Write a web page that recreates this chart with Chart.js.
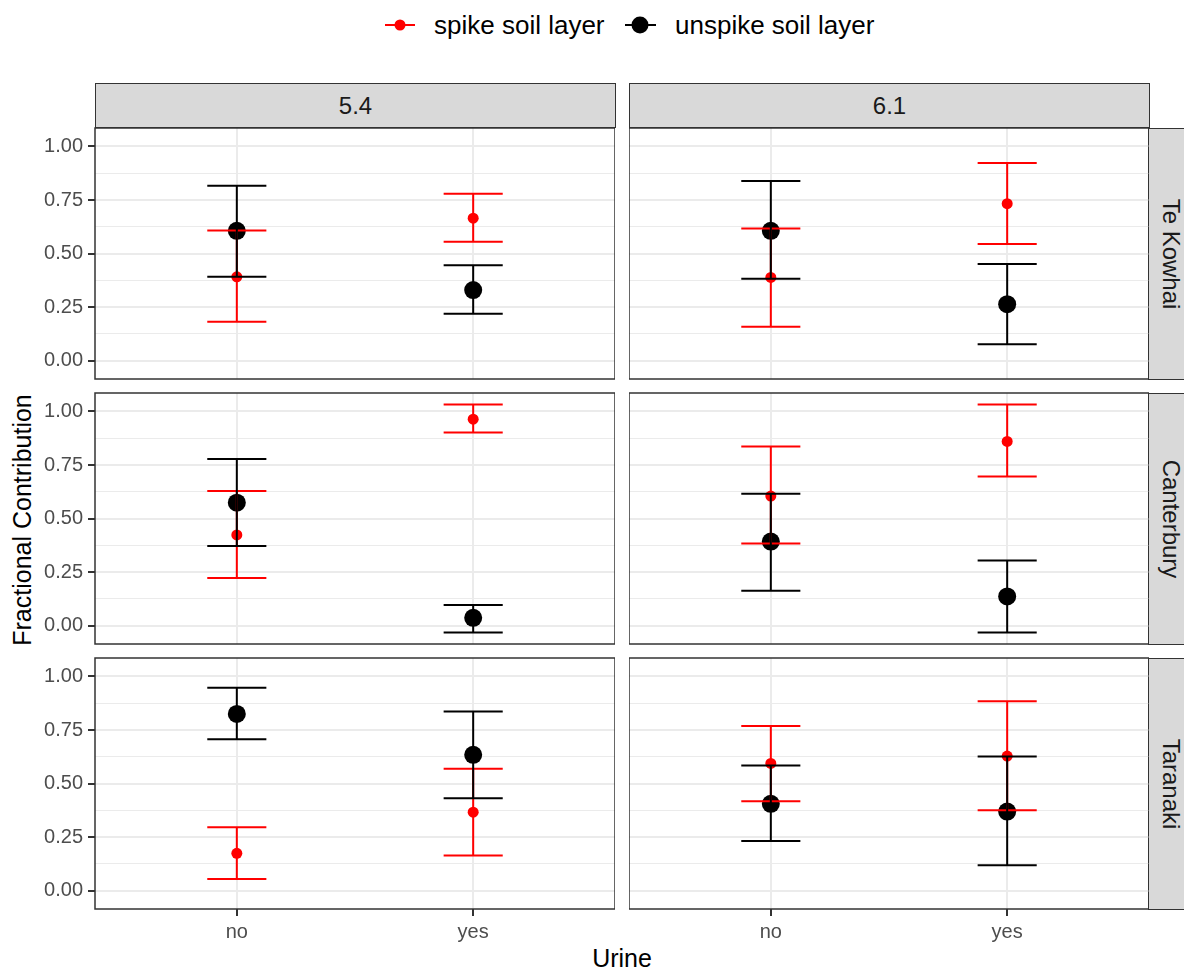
<!DOCTYPE html>
<html>
<head>
<meta charset="utf-8">
<title>Fractional Contribution by Urine</title>
<script src="https://cdn.jsdelivr.net/npm/chart.js@4.4.1/dist/chart.umd.min.js"></script>
<style>
  html, body { margin: 0; padding: 0; background: #fff; }
  #page {
    position: relative; width: 1184px; height: 970px; overflow: hidden;
    font-family: "Liberation Sans", Arial, sans-serif;
  }
  canvas { position: absolute; }
  .strip {
    position: absolute; box-sizing: border-box;
    background: #D9D9D9; border: 1.5px solid #333333;
    color: #1A1A1A; font-size: 24px;
    display: flex; align-items: center; justify-content: center;
  }
  .strip.side span { transform: rotate(90deg); white-space: nowrap; }
  .title { position: absolute; color: #000; font-size: 25px; white-space: nowrap; transform: translate(-50%, -50%); }
  .title.y { transform: translate(-50%, -50%) rotate(-90deg); }
  .lg-text { position: absolute; top: 25px; transform: translateY(-50%); font-size: 26px; color: #000; white-space: nowrap; }
  .lg-line { position: absolute; height: 2px; top: 24px; }
  .lg-dot { position: absolute; border-radius: 50%; transform: translate(-50%, -50%); top: 25px; }
</style>
</head>
<body>
<div id="page">
  <div class="lg-line" style="left:385px;width:30px;background:#FF0000"></div>
  <div class="lg-dot" style="left:400px;width:11px;height:11px;background:#FF0000"></div>
  <div class="lg-text" style="left:434px">spike soil layer</div>
  <div class="lg-line" style="left:625px;width:31px;background:#000"></div>
  <div class="lg-dot" style="left:640px;width:17px;height:17px;background:#000"></div>
  <div class="lg-text" style="left:675px">unspike soil layer</div>

  <div class="title y" style="left:22px;top:520px">Fractional Contribution</div>
  <div class="title" style="left:622px;top:958px">Urine</div>
</div>

<script>
'use strict';

// ─── Data ─────────────────────────────────────────────────────────────────────
const phLevels = ['5.4', '6.1'];
const sites = ['Te Kowhai', 'Canterbury', 'Taranaki'];
const urine = ['no', 'yes'];

// [site][pH] -> [no, yes]
const spikeMean = [
  [[0.391, 0.665], [0.388, 0.733]],
  [[0.423, 0.964], [0.605, 0.860]],
  [[0.174, 0.366], [0.594, 0.628]],
];
const spikeLow = [
  [[0.181, 0.555], [0.158, 0.544]],
  [[0.222, 0.902], [0.383, 0.696]],
  [[0.054, 0.164], [0.417, 0.375]],
];
const spikeHigh = [
  [[0.607, 0.779], [0.617, 0.923]],
  [[0.628, 1.033], [0.836, 1.033]],
  [[0.296, 0.569], [0.769, 0.884]],
];

const unspikeMean = [
  [[0.606, 0.329], [0.606, 0.263]],
  [[0.574, 0.036], [0.392, 0.136]],
  [[0.825, 0.634], [0.405, 0.369]],
];
const unspikeLow = [
  [[0.391, 0.219], [0.382, 0.076]],
  [[0.372, -0.033], [0.163, -0.033]],
  [[0.707, 0.431], [0.231, 0.118]],
];
const unspikeHigh = [
  [[0.816, 0.445], [0.839, 0.451]],
  [[0.778, 0.096], [0.616, 0.304]],
  [[0.947, 0.836], [0.584, 0.626]],
];

const yTicks = [0, 0.125, 0.25, 0.375, 0.5, 0.625, 0.75, 0.875, 1];

// ─── Layout ───────────────────────────────────────────────────────────────────
const PANEL_W = 520;
const PANEL_H = 251;
const COL_LEFT = [95, 629];
const ROW_TOP = [128, 393, 658];
const MARGIN = 20;
const X_AXIS_H = 45;
const Y_MIN = -0.0863;
const Y_MAX = 1.0863;
const CAP_WIDTH = 0.25;

const series = [
  { label: 'spike soil layer', color: '#FF0000', radius: 5.5, mean: spikeMean, low: spikeLow, high: spikeHigh },
  { label: 'unspike soil layer', color: '#000000', radius: 9, mean: unspikeMean, low: unspikeLow, high: unspikeHigh },
];

const tickFont = { family: '"Liberation Sans", Arial, sans-serif', size: 20 };
const isMajor = v => Math.abs(v * 4 - Math.round(v * 4)) < 1e-6;

const page = document.getElementById('page');

// strips
phLevels.forEach((ph, c) => {
  const s = document.createElement('div');
  s.className = 'strip';
  s.style.cssText = `left:${COL_LEFT[c]}px;top:83px;width:${PANEL_W + 1}px;height:45px;`;
  s.textContent = ph;
  page.appendChild(s);
});
sites.forEach((site, r) => {
  const s = document.createElement('div');
  s.className = 'strip side';
  s.style.cssText = `left:1148px;top:${ROW_TOP[r]}px;width:46px;height:${PANEL_H + 1}px;`;
  s.innerHTML = `<span>${site}</span>`;
  page.appendChild(s);
});

// error bars + panel frame
const errorBars = {
  id: 'errorBars',
  afterDatasetsDraw(chart) {
    const { ctx, scales: { x, y } } = chart;
    const { r, c } = chart.options.plugins.errorBars;
    ctx.save();
    ctx.lineWidth = 2;
    ctx.lineCap = 'butt';
    series.forEach(s => {
      ctx.strokeStyle = s.color;
      urine.forEach((_, i) => {
        const px = x.getPixelForValue(i + 1);
        const hw = x.getPixelForValue(i + 1 + CAP_WIDTH / 2) - px;
        const yl = y.getPixelForValue(s.low[r][c][i]);
        const yh = y.getPixelForValue(s.high[r][c][i]);
        ctx.beginPath();
        ctx.moveTo(px, yl); ctx.lineTo(px, yh);
        ctx.moveTo(px - hw, yl); ctx.lineTo(px + hw, yl);
        ctx.moveTo(px - hw, yh); ctx.lineTo(px + hw, yh);
        ctx.stroke();
      });
    });
    ctx.restore();
  },
  afterDraw(chart) {
    const { ctx, chartArea: a } = chart;
    ctx.save();
    ctx.strokeStyle = '#333333';
    ctx.lineWidth = 1.5;
    ctx.strokeRect(a.left, a.top, a.right - a.left, a.bottom - a.top);
    ctx.restore();
  },
};

// ─── Panels ───────────────────────────────────────────────────────────────────
function makePanel(r, c) {
  const bottomRow = r === sites.length - 1;
  const leftCol = c === 0;
  const canvas = document.createElement('canvas');
  const left = leftCol ? 0 : COL_LEFT[c];
  const width = (leftCol ? COL_LEFT[0] : 0) + PANEL_W;
  const top = ROW_TOP[r] - MARGIN;
  const height = MARGIN + PANEL_H + (bottomRow ? X_AXIS_H : MARGIN);
  canvas.width = width;
  canvas.height = height;
  canvas.style.left = left + 'px';
  canvas.style.top = top + 'px';
  page.appendChild(canvas);

  new Chart(canvas, {
    type: 'scatter',
    data: {
      datasets: series.map(s => ({
        label: s.label,
        data: urine.map((_, i) => ({ x: i + 1, y: s.mean[r][c][i] })),
        backgroundColor: s.color,
        borderWidth: 0,
        pointRadius: s.radius,
        pointHoverRadius: s.radius,
      })),
    },
    options: {
      responsive: false,
      animation: false,
      events: [],
      layout: {
        autoPadding: false,
        padding: { top: MARGIN, bottom: bottomRow ? 0 : MARGIN, left: 0, right: 0 },
      },
      plugins: {
        legend: { display: false },
        tooltip: { enabled: false },
        errorBars: { r, c },
      },
      scales: {
        x: {
          type: 'linear', min: 0.4, max: 2.6,
          afterBuildTicks: s => { s.ticks = urine.map((_, i) => ({ value: i + 1 })); },
          afterFit: s => { s.height = bottomRow ? X_AXIS_H : 0; },
          border: { display: false },
          grid: { color: '#EBEBEB', lineWidth: 2, drawTicks: bottomRow, tickLength: 7, tickColor: '#333333', tickWidth: 2 },
          ticks: {
            display: bottomRow, autoSkip: false, maxRotation: 0, padding: 4,
            color: '#4D4D4D', font: tickFont,
            callback: v => urine[v - 1],
          },
        },
        y: {
          type: 'linear', min: Y_MIN, max: Y_MAX,
          afterBuildTicks: s => { s.ticks = yTicks.map(v => ({ value: v })); },
          afterFit: s => { s.width = leftCol ? COL_LEFT[0] : 0; },
          border: { display: false },
          grid: {
            color: '#EBEBEB',
            lineWidth: ctx => (ctx.tick && isMajor(ctx.tick.value) ? 2 : 1),
            drawTicks: leftCol, tickLength: 7, tickWidth: 2,
            tickColor: ctx => (ctx.tick && isMajor(ctx.tick.value) ? '#333333' : 'rgba(0,0,0,0)'),
          },
          ticks: {
            display: leftCol, autoSkip: false, padding: 5,
            color: '#4D4D4D', font: tickFont,
            callback: v => (isMajor(v) ? v.toFixed(2) : ''),
          },
        },
      },
    },
    plugins: [errorBars],
  });
}

sites.forEach((_, r) => phLevels.forEach((_, c) => makePanel(r, c)));
</script>
</body>
</html>
